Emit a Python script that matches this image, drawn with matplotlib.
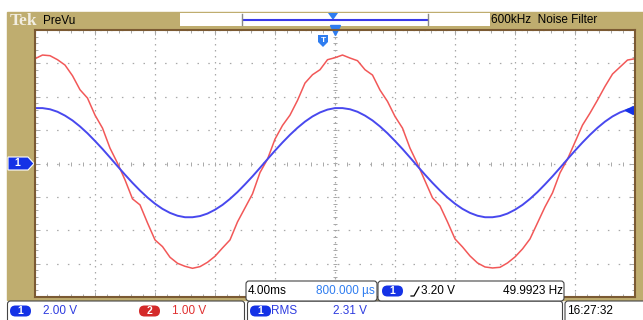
import numpy as np
import matplotlib
matplotlib.use("Agg")
import matplotlib.pyplot as plt
from matplotlib.patches import Rectangle, FancyBboxPatch, Polygon
from matplotlib.ticker import MultipleLocator

plt.rcParams['font.family'] = ['Liberation Sans', 'DejaVu Sans']

# scope samples, 0.5 ms apart over the 10 div screen (4 ms/div)
t_ms = np.linspace(0, 40, 81)

# channel 1 (blue), volts
ch1_v = [3.32, 3.32, 3.25, 3.10, 2.87, 2.58, 2.22, 1.81, 1.35, 0.87,
         0.36, -0.16, -0.67, -1.16, -1.62, -2.04, -2.41, -2.72, -2.96, -3.13,
         -3.22, -3.22, -3.15, -3.00, -2.77, -2.48, -2.12, -1.71, -1.25, -0.77,
         -0.26, 0.26, 0.77, 1.26, 1.72, 2.14, 2.51, 2.82, 3.06, 3.23,
         3.32, 3.32, 3.25, 3.10, 2.87, 2.58, 2.22, 1.81, 1.35, 0.87,
         0.36, -0.16, -0.67, -1.16, -1.62, -2.04, -2.41, -2.72, -2.96, -3.13,
         -3.22, -3.22, -3.15, -3.00, -2.77, -2.48, -2.12, -1.71, -1.25, -0.77,
         -0.26, 0.26, 0.77, 1.26, 1.72, 2.14, 2.51, 2.82, 3.06, 3.23,
         3.32]

# channel 2 (red), volts
ch2_v = [3.14, 3.25, 3.23, 3.11, 2.95, 2.63, 2.21, 1.96, 1.45, 1.06,
         0.46, 0.01, -0.49, -1.06, -1.24, -1.78, -2.29, -2.49, -2.81, -2.99,
         -3.08, -3.14, -3.09, -2.96, -2.78, -2.53, -2.29, -1.75, -1.33, -0.91,
         -0.27, 0.13, 0.73, 1.14, 1.45, 1.89, 2.41, 2.66, 2.81, 3.11,
         3.17, 3.25, 3.16, 3.08, 2.81, 2.65, 2.20, 1.86, 1.41, 1.06,
         0.46, -0.01, -0.52, -1.03, -1.27, -1.75, -2.26, -2.50, -2.77, -2.98,
         -3.10, -3.13, -3.11, -2.98, -2.80, -2.56, -2.26, -1.78, -1.30, -0.88,
         -0.28, 0.13, 0.64, 1.15, 1.51, 1.90, 2.31, 2.68, 2.89, 3.10,
         3.14]

time_scale = 4.0    # ms/div
ch1_scale = 2.0     # V/div
ch2_scale = 1.0
trig_level = 3.20   # V on ch1
trig_pos_ms = 0.8   # horizontal position

ch1_text = "2.00 V"
ch2_text = "1.00 V"
rms_text = "2.31 V"
time_text = "4.00ms"
pos_text = "800.000 \u00b5s"
trig_text = "3.20 V"
freq_text = "49.9923 Hz"
clock_text = "16:27:32"

TAN = '#BFAD6F'
BROWN = '#7B5A33'
BLUE_TRACE = '#4848EE'
RED_TRACE = '#F25858'
BADGE_BLUE = '#1432E6'
BADGE_RED = '#D42A2A'
TEXT_BLUE = '#2E3CE0'
LIGHT_BLUE = '#2F7DF0'
GRID = '#A8A8A8'

fig = plt.figure(figsize=(6.43, 3.2), dpi=100)

# background in pixel units (y down)
bg = fig.add_axes([0, 0, 1, 1], zorder=0)
bg.set_xlim(0, 643)
bg.set_ylim(320, 0)
bg.axis('off')
bg.add_patch(Rectangle((7, 12), 636, 288, color=TAN))

# graticule
ax = fig.add_axes([35 / 643, 23 / 320, 600 / 643, 267 / 320], zorder=1)
ax.set_xlim(0, 10)
ax.set_ylim(-4, 4)
ax.set_facecolor('white')
for s in ax.spines.values():
    s.set_color(BROWN)
    s.set_linewidth(1.5)
ax.xaxis.set_major_locator(MultipleLocator(1))
ax.yaxis.set_major_locator(MultipleLocator(1))
ax.xaxis.set_minor_locator(MultipleLocator(0.2))
ax.yaxis.set_minor_locator(MultipleLocator(0.2))
ax.tick_params(which='both', direction='in', top=True, right=True,
               labelbottom=False, labelleft=False, color=GRID, width=0.7)
ax.tick_params(which='major', length=3.5)
ax.tick_params(which='minor', length=2)
ax.grid(axis='x', which='major', color=GRID, lw=0.9, linestyle=(0, (1.2, 3.6)))
ax.grid(axis='y', which='major', color=GRID, lw=0.9, linestyle=(0, (1.2, 7.44)))

# center cross ticks
minor_x = np.arange(0, 10.01, 0.2)
minor_y = np.arange(-4, 4.01, 0.2)
ax.plot(minor_x, np.zeros_like(minor_x), '|', ms=3.5, mew=0.7, color=GRID)
ax.plot(np.full_like(minor_y, 5), minor_y, '_', ms=3.5, mew=0.7, color=GRID)

# traces
ax.plot(t_ms / time_scale, np.array(ch2_v) / ch2_scale, color=RED_TRACE, lw=1.1)
ax.plot(t_ms / time_scale, np.array(ch1_v) / ch1_scale, color=BLUE_TRACE, lw=1.4)

# trigger level arrow on the right edge
ty = trig_level / ch1_scale
ax.plot([9.88, 10], [ty, ty], color=BADGE_BLUE, lw=1.5, clip_on=False)
ax.plot(9.9, ty, '<', ms=6, color=BADGE_BLUE, clip_on=False)
# horizontal position marker on top edge
ax.plot(5, 4, 'v', ms=7, color=LIGHT_BLUE, clip_on=False)

fg = fig.add_axes([0, 0, 1, 1], zorder=2)
fg.set_xlim(0, 643)
fg.set_ylim(320, 0)
fg.axis('off')
fg.patch.set_alpha(0)


def badge(a, x, y, label, color):
    a.add_patch(FancyBboxPatch((x, y - 5.5), 21, 11,
                               boxstyle='round,pad=0,rounding_size=5.5',
                               fc=color, ec='none'))
    a.text(x + 10.5, y, label, color='white', size=7.5, weight='bold',
           ha='center', va='center')


# trigger point marker
tx = 35 + (5 - trig_pos_ms / time_scale) * 60
fg.add_patch(Polygon([(tx - 5, 35), (tx + 5, 35), (tx + 5, 42), (tx, 47), (tx - 5, 42)],
                     fc=LIGHT_BLUE, ec='none'))
fg.text(tx, 40, 'T', color='white', size=6, weight='bold', ha='center', va='center')

# top bar
bg.text(10, 21, 'Tek', family='Liberation Serif', weight='bold', size=12.5,
        color='#F2EEE2', va='center')
bg.text(43, 21, 'PreVu', size=8.5, va='center')
bg.add_patch(Rectangle((180, 13), 310, 13, fc='white', ec='none'))
bg.plot([243, 427], [20, 20], color='#3A3AE8', lw=1.5)
bg.plot([242, 242], [14, 25], color='#888888', lw=1)
bg.plot([428, 428], [14, 25], color='#888888', lw=1)
bg.add_patch(Polygon([(328, 13), (338, 13), (333, 20)], fc=LIGHT_BLUE, ec='none'))
bg.text(491, 20, '600kHz  Noise Filter', size=8.5, va='center')

# channel 1 ground marker
bg.add_patch(Polygon([(8, 157), (28, 157), (34, 163.5), (28, 170), (8, 170)],
                     fc=BADGE_BLUE, ec='white', lw=0.8))
bg.text(17, 163.5, '1', color='white', size=7.5, weight='bold', ha='center', va='center')

# bottom status bar
for x0, w in [(7.5, 237), (247.5, 315), (565, 90)]:
    bg.add_patch(FancyBboxPatch((x0, 301), w, 30,
                                boxstyle='round,pad=0,rounding_size=3',
                                fc='white', ec='#444444', lw=0.8))
badge(bg, 10, 311, '1', BADGE_BLUE)
bg.text(43, 311, ch1_text, color=TEXT_BLUE, size=8.5, va='center')
badge(bg, 139, 311, '2', BADGE_RED)
bg.text(172, 311, ch2_text, color='#E03030', size=8.5, va='center')
badge(bg, 250, 311, '1', BADGE_BLUE)
bg.text(271, 311, 'RMS', color=TEXT_BLUE, size=8.5, va='center')
bg.text(333, 311, rms_text, color=TEXT_BLUE, size=8.5, va='center')
bg.text(567, 311, clock_text, color='black', size=8.5, va='center')

# readout boxes over the graticule
fg.add_patch(FancyBboxPatch((246, 281), 131, 20, boxstyle='round,pad=0,rounding_size=3',
                            fc='white', ec='#444444', lw=0.8))
fg.add_patch(FancyBboxPatch((378, 281), 186, 20, boxstyle='round,pad=0,rounding_size=3',
                            fc='white', ec='#444444', lw=0.8))
fg.text(248, 291, time_text, size=8.5, va='center')
fg.text(316, 291, pos_text, color=LIGHT_BLUE, size=8.5, va='center')
badge(fg, 382, 291, '1', BADGE_BLUE)
fg.plot([411, 414, 419], [296, 296, 287], color='black', lw=0.9)
fg.text(421, 291, trig_text, size=8.5, va='center')
fg.text(563, 291, freq_text, size=8.5, va='center', ha='right')

fig.savefig('out.png', dpi=100)
